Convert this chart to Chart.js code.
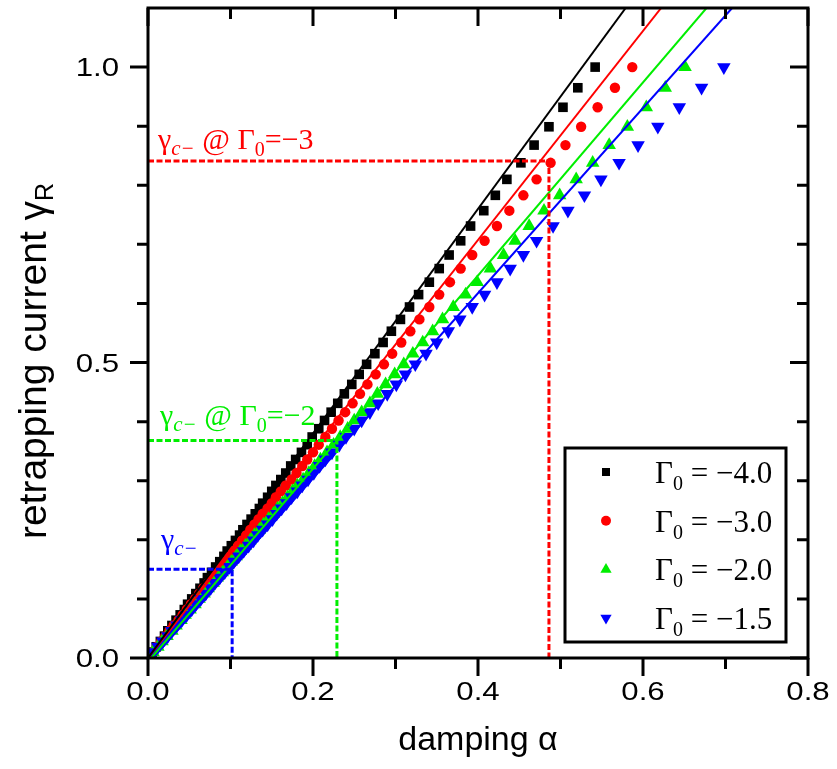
<!DOCTYPE html>
<html>
<head>
<meta charset="utf-8">
<script src="https://cdn.jsdelivr.net/npm/chart.js@4.4.0/dist/chart.umd.min.js"></script>
<style>
  html, body { margin: 0; padding: 0; background: #fff; }
  #chart { display: block; }
</style>
</head>
<body>
<canvas id="chart" width="837" height="769"></canvas>
<script>
// retrapping current levels (shared by all four series)
const gammaR = [1.000, 0.965, 0.932, 0.899, 0.868, 0.838, 0.810, 0.783, 0.757, 0.731, 0.706, 0.682, 0.659, 0.636, 0.615,
  0.594, 0.573, 0.553, 0.534, 0.515, 0.497, 0.480, 0.463, 0.447, 0.431, 0.416, 0.402, 0.388, 0.374, 0.361, 0.348, 0.336, 0.325, 0.313, 0.302,
  0.292, 0.282, 0.272, 0.262, 0.253, 0.244, 0.235, 0.226, 0.217, 0.208, 0.199, 0.190, 0.181, 0.172, 0.163, 0.154, 0.145, 0.136, 0.127, 0.118,
  0.109, 0.100, 0.091, 0.082, 0.073, 0.064, 0.055, 0.046, 0.037, 0.028, 0.019, 0.010];

// damping for each Gamma0
const alphaG40 = [0.542, 0.521, 0.503, 0.486, 0.468, 0.452, 0.435, 0.421, 0.407, 0.391, 0.379, 0.365, 0.353, 0.341, 0.328,
  0.317, 0.306, 0.295, 0.285, 0.275, 0.265, 0.256, 0.247, 0.238, 0.230, 0.222, 0.214, 0.207, 0.199, 0.193, 0.186, 0.179, 0.173, 0.167, 0.161,
  0.155, 0.150, 0.145, 0.139, 0.135, 0.130, 0.125, 0.120, 0.115, 0.111, 0.106, 0.101, 0.096, 0.092, 0.087, 0.082, 0.077, 0.072, 0.068, 0.063,
  0.058, 0.053, 0.048, 0.044, 0.039, 0.034, 0.029, 0.024, 0.020, 0.015, 0.010, 0.005];
const alphaG30 = [0.587, 0.566, 0.545, 0.525, 0.506, 0.488, 0.471, 0.455, 0.438, 0.423, 0.408, 0.393, 0.379, 0.366, 0.353,
  0.341, 0.329, 0.318, 0.307, 0.296, 0.286, 0.276, 0.266, 0.257, 0.248, 0.239, 0.231, 0.223, 0.215, 0.207, 0.200, 0.193, 0.187, 0.180, 0.174,
  0.167, 0.161, 0.155, 0.150, 0.145, 0.139, 0.134, 0.129, 0.124, 0.119, 0.114, 0.109, 0.103, 0.098, 0.093, 0.088, 0.083, 0.078, 0.073, 0.067,
  0.062, 0.057, 0.052, 0.047, 0.042, 0.037, 0.031, 0.026, 0.021, 0.016, 0.011, 0.006];
const alphaG20 = [0.651, 0.627, 0.604, 0.581, 0.559, 0.539, 0.519, 0.499, 0.480, 0.462, 0.445, 0.431, 0.415, 0.399, 0.385,
  0.370, 0.357, 0.345, 0.333, 0.321, 0.310, 0.299, 0.288, 0.278, 0.269, 0.259, 0.250, 0.242, 0.233, 0.225, 0.217, 0.209, 0.202, 0.195, 0.188,
  0.181, 0.175, 0.169, 0.163, 0.157, 0.152, 0.146, 0.140, 0.135, 0.129, 0.124, 0.118, 0.112, 0.107, 0.101, 0.096, 0.090, 0.084, 0.079, 0.073,
  0.068, 0.062, 0.057, 0.051, 0.045, 0.040, 0.034, 0.029, 0.023, 0.017, 0.012, 0.006];
const alphaG15 = [0.698, 0.671, 0.644, 0.618, 0.594, 0.571, 0.549, 0.529, 0.509, 0.491, 0.471, 0.455, 0.439, 0.423, 0.408,
  0.393, 0.378, 0.364, 0.350, 0.337, 0.324, 0.312, 0.301, 0.290, 0.279, 0.269, 0.259, 0.250, 0.240, 0.232, 0.223, 0.215, 0.208, 0.201, 0.194,
  0.187, 0.181, 0.174, 0.168, 0.162, 0.156, 0.151, 0.145, 0.139, 0.133, 0.128, 0.122, 0.116, 0.110, 0.104, 0.099, 0.093, 0.087, 0.081, 0.076,
  0.070, 0.064, 0.058, 0.053, 0.047, 0.041, 0.035, 0.029, 0.024, 0.018, 0.012, 0.006];

// straight fit lines: two end points each
const fitGamma = [0, 1.1];
const fitAlphaG40 = [0.000, 0.579];
const fitAlphaG30 = [0.000, 0.622];
const fitAlphaG20 = [0.004, 0.677];
const fitAlphaG15 = [0.006, 0.708];

// gamma_c- markers (dashed guides)
const critAlpha = [0.486, 0.229, 0.102];
const critGamma = [0.841, 0.368, 0.150];

const gamma0Labels = ['\u22124.0', '\u22123.0', '\u22122.0', '\u22121.5'];
const xTickValues = [0, 0.2, 0.4, 0.6, 0.8];
const xTickLabels = ['0.0', '0.2', '0.4', '0.6', '0.8'];
const yTickValues = [0, 0.5, 1.0];
const yTickLabels = ['0.0', '0.5', '1.0'];

const serif = '"Liberation Serif", "Times New Roman", serif';
const sans = '"Liberation Sans", Arial, sans-serif';
const RED = '#ff0000', GREEN = '#00ee00', BLUE = '#0000ff', BLACK = '#000000';

function pts(xs, ys) {
  return ys.map((y, i) => ({ x: xs[i], y: y }));
}

function markerSet(alpha, color, style, radius, rotation, order) {
  return {
    data: pts(alpha, gammaR),
    showLine: false,
    pointStyle: style,
    pointRadius: radius,
    pointRotation: rotation,
    pointBackgroundColor: color,
    pointBorderColor: color,
    pointBorderWidth: 0,
    order: order
  };
}

function fitSet(alpha, color) {
  return {
    data: pts(alpha, fitGamma),
    showLine: true,
    borderColor: color,
    borderWidth: 2,
    pointRadius: 0,
    order: 1
  };
}

function guideSet(i, color) {
  return {
    data: [{ x: 0, y: critGamma[i] }, { x: critAlpha[i], y: critGamma[i] }, { x: critAlpha[i], y: 0 }],
    showLine: true,
    borderColor: color,
    borderWidth: 3,
    borderDash: [6, 2.5],
    pointRadius: 0,
    order: 0
  };
}

// draw a run of text pieces: [text, font, dy]
function drawRun(ctx, x, y, parts) {
  parts.forEach(p => {
    ctx.font = p[1];
    ctx.fillText(p[0], x, y + (p[2] || 0));
    x += ctx.measureText(p[0]).width;
  });
  return x;
}

function runWidth(ctx, parts) {
  let w = 0;
  parts.forEach(p => { ctx.font = p[1]; w += ctx.measureText(p[0]).width; });
  return w;
}

function drawMarker(ctx, style, x, y, r) {
  ctx.beginPath();
  if (style === 'rect') {
    ctx.rect(x - r, y - r, 2 * r, 2 * r);
  } else if (style === 'circle') {
    ctx.arc(x, y, r, 0, Math.PI * 2);
  } else if (style === 'up') {
    ctx.moveTo(x, y - r); ctx.lineTo(x + r * 0.866, y + r / 2); ctx.lineTo(x - r * 0.866, y + r / 2);
  } else {
    ctx.moveTo(x, y + r); ctx.lineTo(x + r * 0.866, y - r / 2); ctx.lineTo(x - r * 0.866, y - r / 2);
  }
  ctx.closePath();
  ctx.fill();
}

const framePlugin = {
  id: 'frame',
  afterDraw(chart) {
    const ctx = chart.ctx, a = chart.chartArea, xs = chart.scales.x, ys = chart.scales.y;
    ctx.save();
    ctx.strokeStyle = BLACK;
    ctx.lineWidth = 3;
    ctx.beginPath();
    for (let i = 0; i <= 8; i++) {
      const px = xs.getPixelForValue(i / 10), len = i % 2 === 0 ? 18 : 11;
      ctx.moveTo(px, a.bottom); ctx.lineTo(px, a.bottom + len);
      ctx.moveTo(px, a.top); ctx.lineTo(px, a.top + len);
    }
    for (let i = 0; i <= 10; i++) {
      const py = ys.getPixelForValue(i / 10), len = i % 5 === 0 ? 18 : 11;
      ctx.moveTo(a.left, py); ctx.lineTo(a.left - len, py);
      ctx.moveTo(a.right, py); ctx.lineTo(a.right - len, py);
    }
    ctx.stroke();
    ctx.strokeRect(a.left, a.top, a.right - a.left, a.bottom - a.top);

    // tick labels (slightly wide sans, as in the original figure)
    ctx.fillStyle = BLACK;
    ctx.textBaseline = 'alphabetic';
    ctx.font = '26px ' + sans;
    ctx.textAlign = 'right';
    yTickValues.forEach((v, i) => {
      ctx.save();
      ctx.translate(a.left - 29, ys.getPixelForValue(v) + 9);
      ctx.scale(1.2, 1);
      ctx.fillText(yTickLabels[i], 0, 0);
      ctx.restore();
    });
    ctx.textAlign = 'center';
    xTickValues.forEach((v, i) => {
      ctx.save();
      ctx.translate(xs.getPixelForValue(v), a.bottom + 42);
      ctx.scale(1.2, 1);
      ctx.fillText(xTickLabels[i], 0, 0);
      ctx.restore();
    });
    ctx.textAlign = 'left';

    // axis titles
    ctx.font = '34px ' + sans;
    const xt = 'damping \u03b1';
    ctx.fillText(xt, (a.left + a.right) / 2 - ctx.measureText(xt).width / 2, 750);

    ctx.save();
    ctx.translate(46, 361);
    ctx.rotate(-Math.PI / 2);
    const yParts = [['retrapping current \u03b3', '39px ' + sans], ['R', '25px ' + sans, 7]];
    drawRun(ctx, -runWidth(ctx, yParts) / 2, 0, yParts);
    ctx.restore();

    // gamma_c- annotations
    const x0 = xs.getPixelForValue(0) + 10;
    const big = '30px ' + serif, sub = 'italic 21px ' + serif, sub0 = '20px ' + serif;
    ctx.fillStyle = RED;
    drawRun(ctx, x0, ys.getPixelForValue(critGamma[0]) - 12,
      [['\u03b3', big], ['c\u2212', sub, 6], [' @ \u0393', big], ['0', sub0, 7], ['=\u22123', big]]);
    ctx.fillStyle = GREEN;
    drawRun(ctx, x0 + 2, ys.getPixelForValue(critGamma[1]) - 16,
      [['\u03b3', big], ['c\u2212', sub, 6], [' @ \u0393', big], ['0', sub0, 7], ['=\u22122', big]]);
    ctx.fillStyle = BLUE;
    drawRun(ctx, x0 + 3, ys.getPixelForValue(critGamma[2]) - 20,
      [['\u03b3', big], ['c\u2212', sub, 6]]);

    // legend
    const bx = a.right - 243, by = a.bottom - 210, bw = 221, bh = 194;
    ctx.fillStyle = '#fff';
    ctx.fillRect(bx, by, bw, bh);
    ctx.lineWidth = 3;
    ctx.strokeStyle = BLACK;
    ctx.strokeRect(bx, by, bw, bh);
    const styles = [['rect', BLACK, 4], ['circle', RED, 5], ['up', GREEN, 6.5], ['down', BLUE, 6.5]];
    gamma0Labels.forEach((lab, i) => {
      const cy = by + 24 + i * 48.7;
      ctx.fillStyle = styles[i][1];
      drawMarker(ctx, styles[i][0], bx + 41, cy, styles[i][2]);
      ctx.fillStyle = BLACK;
      drawRun(ctx, bx + 90, cy + 11, [['\u0393', '31px ' + serif], ['0', '20px ' + serif, 7], [' = ' + lab, '31px ' + serif]]);
    });
    ctx.restore();
  }
};

new Chart(document.getElementById('chart'), {
  type: 'scatter',
  data: {
    datasets: [
      guideSet(0, RED), guideSet(1, GREEN), guideSet(2, BLUE),
      fitSet(fitAlphaG40, BLACK), fitSet(fitAlphaG30, RED), fitSet(fitAlphaG20, GREEN), fitSet(fitAlphaG15, BLUE),
      markerSet(alphaG40, BLACK, 'rect', 6.8, 0, 5),
      markerSet(alphaG30, RED, 'circle', 5.2, 0, 4),
      markerSet(alphaG20, GREEN, 'triangle', 7.8, 0, 3),
      markerSet(alphaG15, BLUE, 'triangle', 7.8, 180, 2)
    ]
  },
  options: {
    responsive: false,
    animation: false,
    layout: { padding: { top: 8, right: 29, left: 0, bottom: 0 } },
    plugins: { legend: { display: false }, tooltip: { enabled: false } },
    scales: {
      x: {
        type: 'linear', min: 0, max: 0.8,
        grid: { display: false, drawTicks: false },
        border: { display: false },
        afterBuildTicks: s => { s.ticks = xTickValues.map(v => ({ value: v })); },
        afterFit: s => { s.height = 111; },
        ticks: { display: false }
      },
      y: {
        type: 'linear', min: 0, max: 1.1,
        grid: { display: false, drawTicks: false },
        border: { display: false },
        afterBuildTicks: s => { s.ticks = yTickValues.map(v => ({ value: v })); },
        afterFit: s => { s.width = 148; },
        ticks: { display: false }
      }
    }
  },
  plugins: [framePlugin]
});
</script>
</body>
</html>
